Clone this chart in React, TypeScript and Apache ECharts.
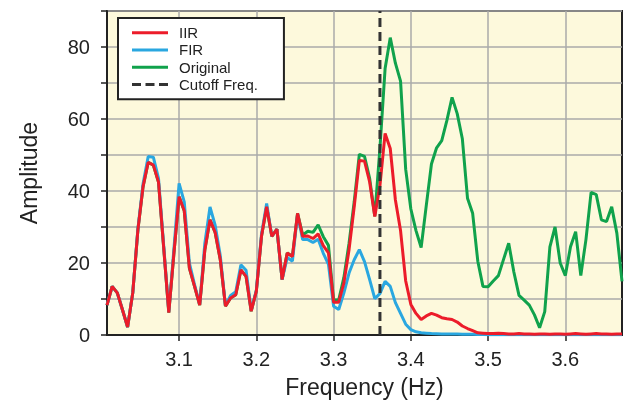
import React, { useEffect, useRef } from "react";
import * as echarts from "echarts";

// Frequency sampling grid (Hz): 101 spectral bins, 1/150 Hz apart
const F_START = 451 / 150;
const F_STEP = 1 / 150;
const CUTOFF = 3.36;
const X_MIN = 451 / 150;
const X_MAX = 551 / 150;
const Y_MAX = 90;
const X_TICKS = [3.1, 3.2, 3.3, 3.4, 3.5, 3.6];
const Y_LABELS = [0, 20, 40, 60, 80];

const IIR = [
  8.3, 13.5, 11.7, 7.0, 2.2, 11.7, 29.2, 41.2, 48.0, 47.2,
  42.5, 24.4, 6.2, 22.8, 38.4, 34.5, 18.6, 13.5, 8.3, 23.7,
  32.0, 28.5, 20.9, 8.0, 10.3, 11.2, 18.1, 16.3, 6.6, 12.2,
  27.4, 35.6, 27.4, 29.4, 15.4, 22.8, 21.8, 33.8, 27.4, 27.5,
  26.8, 28.1, 24.8, 22.8, 9.1, 9.1, 14.5, 23.7, 35.6, 48.5,
  48.3, 42.5, 32.9, 41.5, 56.0, 51.8, 37.5, 29.0, 15.0, 8.5,
  6.0, 4.3, 5.3, 6.0, 5.5, 4.8, 4.5, 4.3, 3.6, 2.5,
  1.8, 1.2, 0.6, 0.5, 0.4, 0.4, 0.5, 0.4, 0.3, 0.3,
  0.4, 0.3, 0.3, 0.2, 0.3, 0.3, 0.2, 0.3, 0.3, 0.2,
  0.3, 0.4, 0.3, 0.2, 0.3, 0.4, 0.3, 0.3, 0.2, 0.3, 0.3,
];

const FIR = [
  8.3, 13.5, 11.7, 7.0, 2.2, 11.7, 29.5, 42.0, 49.6, 49.4,
  43.5, 25.0, 6.5, 24.0, 42.1, 37.0, 20.0, 14.0, 8.5, 25.5,
  35.6, 30.5, 22.0, 8.2, 11.0, 12.0, 19.5, 18.0, 6.8, 12.5,
  28.0, 36.5, 27.4, 29.4, 15.4, 21.5, 20.5, 33.5, 26.5, 26.5,
  25.7, 26.6, 22.7, 19.6, 8.0, 7.1, 11.7, 17.2, 20.9, 23.7,
  20.4, 15.4, 10.1, 11.5, 14.9, 13.5, 9.0, 6.0, 3.0, 1.5,
  0.9, 0.6, 0.5, 0.4, 0.35, 0.3, 0.3, 0.25, 0.25, 0.2,
  0.2, 0.2, 0.15, 0.15, 0.1, 0.1, 0.1, 0.1, 0.1, 0.1,
  0.1, 0.1, 0.1, 0.1, 0.1, 0.1, 0.1, 0.1, 0.1, 0.1,
  0.1, 0.1, 0.1, 0.1, 0.1, 0.1, 0.1, 0.1, 0.1, 0.1, 0.1,
];

const ORIGINAL = [
  8.3, 13.5, 11.7, 7.0, 2.2, 11.7, 29.2, 41.2, 48.0, 47.2,
  42.5, 24.4, 6.2, 22.8, 38.4, 34.5, 18.6, 13.5, 8.3, 23.7,
  32.0, 28.5, 20.9, 8.0, 10.3, 11.2, 18.1, 16.3, 6.6, 12.2,
  27.4, 35.6, 27.4, 29.4, 15.4, 22.8, 21.8, 33.8, 27.8, 28.8,
  28.5, 30.6, 27.3, 24.9, 9.7, 9.8, 16.0, 25.5, 37.0, 50.2,
  49.6, 43.5, 33.0, 52.0, 74.0, 82.6, 75.5, 70.5, 46.0, 35.0,
  29.0, 24.3, 36.0, 47.5, 52.0, 54.0, 59.6, 66.0, 61.5, 54.5,
  38.0, 33.8, 20.5, 13.5, 13.4, 15.0, 16.5, 21.0, 25.5, 17.5,
  11.0, 9.7, 8.3, 5.6, 2.0, 6.5, 24.5, 30.0, 20.0, 16.5,
  24.5, 28.7, 16.5, 26.5, 39.6, 39.0, 32.0, 31.5, 35.6, 28.3, 14.9,
];

const FONT = "'Liberation Sans', Arial, Helvetica, sans-serif";
const SOLID_ICON = "path://M0,0H36V3H0Z";
const DASH_ICON = "path://M0,0H9V3H0Z M13.5,0H22.5V3H13.5Z M27,0H36V3H27Z";

function pairs(values: number[]): number[][] {
  return values.map((v, i) => [F_START + i * F_STEP, v]);
}

export default function App() {
  const ref = useRef<HTMLDivElement>(null);

  useEffect(() => {
    if (!ref.current) return;
    const chart = echarts.init(ref.current, null, { renderer: "svg" });
    chart.setOption({
      animation: false,
      textStyle: { fontFamily: FONT },
      grid: {
        left: 107,
        right: 5,
        top: 11,
        bottom: 67,
        show: true,
        backgroundColor: "#fdf9dc",
        borderColor: "#222",
        borderWidth: 2,
      },
      legend: {
        orient: "vertical",
        left: 118,
        top: 18,
        data: [
          { name: "IIR", icon: SOLID_ICON },
          { name: "FIR", icon: SOLID_ICON },
          { name: "Original", icon: SOLID_ICON },
          { name: "Cutoff Freq.", icon: DASH_ICON },
        ],
        itemWidth: 36,
        itemHeight: 3,
        itemGap: 0,
        padding: [6, 26, 6, 14],
        backgroundColor: "#ffffff",
        borderColor: "#222",
        borderWidth: 2,
        borderRadius: 0,
        textStyle: {
          fontFamily: FONT,
          fontSize: 15,
          color: "#222",
          lineHeight: 17.3,
          padding: [0, 0, 0, 6],
        },
      },
      xAxis: {
        type: "value",
        min: X_MIN,
        max: X_MAX,
        name: "Frequency (Hz)",
        nameLocation: "middle",
        nameGap: 40,
        nameTextStyle: { fontFamily: FONT, fontSize: 23, color: "#222" },
        axisLine: { show: true, lineStyle: { color: "#222", width: 2 } },
        axisTick: {
          show: true,
          length: 6,
          customValues: X_TICKS,
          lineStyle: { color: "#222", width: 1.5 },
        },
        axisLabel: {
          customValues: X_TICKS,
          margin: 14,
          fontFamily: FONT,
          fontSize: 20,
          color: "#222",
          formatter: (v: number) => v.toFixed(1),
        },
        splitLine: { show: true, lineStyle: { color: "#aaa", width: 1.5 } },
      },
      yAxis: {
        type: "value",
        min: 0,
        max: Y_MAX,
        interval: 10,
        name: "Amplitude",
        nameLocation: "middle",
        nameGap: 67,
        nameTextStyle: { fontFamily: FONT, fontSize: 23, color: "#222" },
        axisLine: { show: true, lineStyle: { color: "#222", width: 2 } },
        axisTick: { show: true, length: 6, lineStyle: { color: "#222", width: 1.5 } },
        axisLabel: {
          customValues: Y_LABELS,
          margin: 17,
          fontFamily: FONT,
          fontSize: 20,
          color: "#222",
        },
        splitLine: { show: true, lineStyle: { color: "#aaa", width: 1.5 } },
      },
      series: [
        {
          name: "Original",
          type: "line",
          data: pairs(ORIGINAL),
          symbol: "none",
          color: "#10a24c",
          lineStyle: { color: "#10a24c", width: 3 },
        },
        {
          name: "FIR",
          type: "line",
          data: pairs(FIR),
          symbol: "none",
          color: "#2aa7e0",
          lineStyle: { color: "#2aa7e0", width: 3 },
        },
        {
          name: "IIR",
          type: "line",
          data: pairs(IIR),
          symbol: "none",
          color: "#ec1c2a",
          lineStyle: { color: "#ec1c2a", width: 3 },
        },
        {
          name: "Cutoff Freq.",
          type: "line",
          data: [
            [CUTOFF, 0],
            [CUTOFF, Y_MAX],
          ],
          symbol: "none",
          color: "#333",
          lineStyle: { color: "#333", width: 3, type: [9, 5] },
        },
      ],
    });
    return () => chart.dispose();
  }, []);

  return (
    <div
      ref={ref}
      style={{ position: "fixed", left: 0, top: 0, width: 627, height: 403 }}
    />
  );
}
